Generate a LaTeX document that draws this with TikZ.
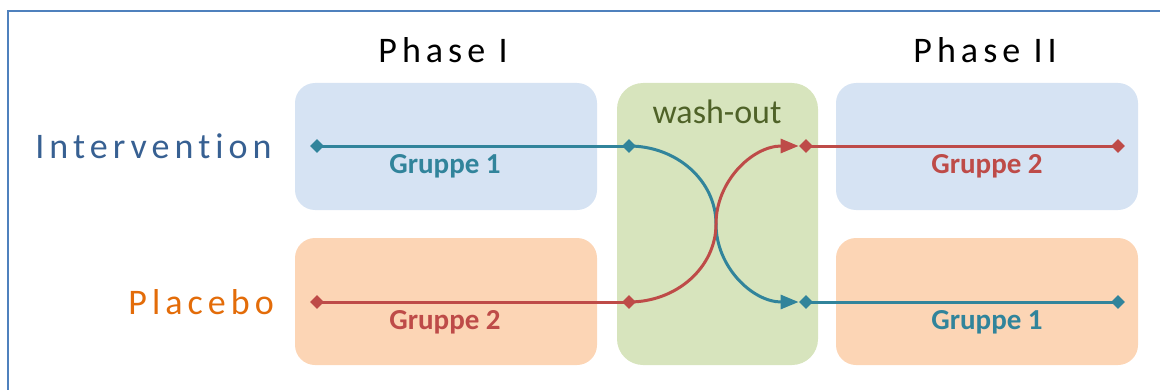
\documentclass[tikz,border=0pt]{standalone}
\usepackage{fontspec}
\setmainfont{Carlito}
\usetikzlibrary{arrows.meta,shapes.geometric}
\definecolor{frameblue}{HTML}{4F81BD}
\definecolor{boxblue}{HTML}{D6E3F3}
\definecolor{boxorange}{HTML}{FCD5B5}
\definecolor{boxgreen}{HTML}{D7E4BD}
\definecolor{grpteal}{HTML}{31849B}
\definecolor{grpred}{HTML}{BE4B48}
\definecolor{interblue}{HTML}{376092}
\definecolor{placorange}{HTML}{E36C09}
\definecolor{washgreen}{HTML}{4F6228}
\tikzset{
  marker/.style={diamond, fill=#1, inner sep=0pt, minimum size=7pt},
  grplabel/.style={font=\fontsize{14.5}{17}\selectfont\bfseries, text=#1, anchor=base, inner sep=0pt},
  biglabel/.style={font=\fontsize{18}{21}\selectfont\addfontfeature{LetterSpace=14,Ligatures=NoCommon}, anchor=base west, inner sep=0pt},
  flow/.style={line width=1.5pt, draw=#1},
  tip/.style={-{Triangle[length=9pt,width=7pt]}},
}
\begin{document}
\begin{tikzpicture}[x=0.5pt,y=-0.5pt]
    \useasboundingbox (0,0) rectangle (1160,390);
    \draw[frameblue, line width=1pt] (8,400) |- (1170,11);
    % boxes
    \fill[boxblue, rounded corners=10pt] (295,83) rectangle (597,210);
    \fill[boxorange, rounded corners=10pt] (295,238) rectangle (597,365);
    \fill[boxblue, rounded corners=10pt] (836,83) rectangle (1138,210);
    \fill[boxorange, rounded corners=10pt] (836,238) rectangle (1138,365);
    \fill[boxgreen, rounded corners=13pt] (617,83) rectangle (818,365);
    % headings
    \node[biglabel] (ph1) at (378,63) {Phase I};
    \node[biglabel] (ph2) at (913,63) {Phase II};
    \node[biglabel, text=interblue] (inter) at (35,158) {Intervention};
    \node[biglabel, text=placorange] (plac) at (128,314) {Placebo};
    \node[font=\fontsize{17}{21}\selectfont, text=washgreen, anchor=base, inner sep=0pt] (wash) at (717,123) {wash-out};
    % markers
    \node[marker=grpteal] (t1) at (317,146) {};
    \node[marker=grpteal] (t2) at (629,146) {};
    \node[marker=grpteal] (t3) at (806,302) {};
    \node[marker=grpteal] (t4) at (1118,302) {};
    \node[marker=grpred] (r1) at (317,302) {};
    \node[marker=grpred] (r2) at (629,302) {};
    \node[marker=grpred] (r3) at (806,146) {};
    \node[marker=grpred] (r4) at (1118,146) {};
    \coordinate (cross) at (716,224);
    % lines
    \draw[flow=grpteal] (t1.center) -- (t2.center);
    \draw[flow=grpteal] (t3.center) -- (t4.center);
    \draw[flow=grpred] (r1.center) -- (r2.center);
    \draw[flow=grpred] (r3.center) -- (r4.center);
    \draw[flow=grpteal, tip] (t2.center) .. controls +(48,0) and +(0,-43) .. (cross)
        .. controls +(0,43) and +(-46,0) .. (t3.west);
    \draw[flow=grpred, tip] (r2.center) .. controls +(48,0) and +(0,43) .. (cross)
        .. controls +(0,-43) and +(-46,0) .. (r3.west);
    % group labels
    \node[grplabel=grpteal] at (445,173) {Gruppe 1};
    \node[grplabel=grpred] at (445,329) {Gruppe 2};
    \node[grplabel=grpred] at (987,173) {Gruppe 2};
    \node[grplabel=grpteal] at (987,329) {Gruppe 1};
\end{tikzpicture}
\end{document}
